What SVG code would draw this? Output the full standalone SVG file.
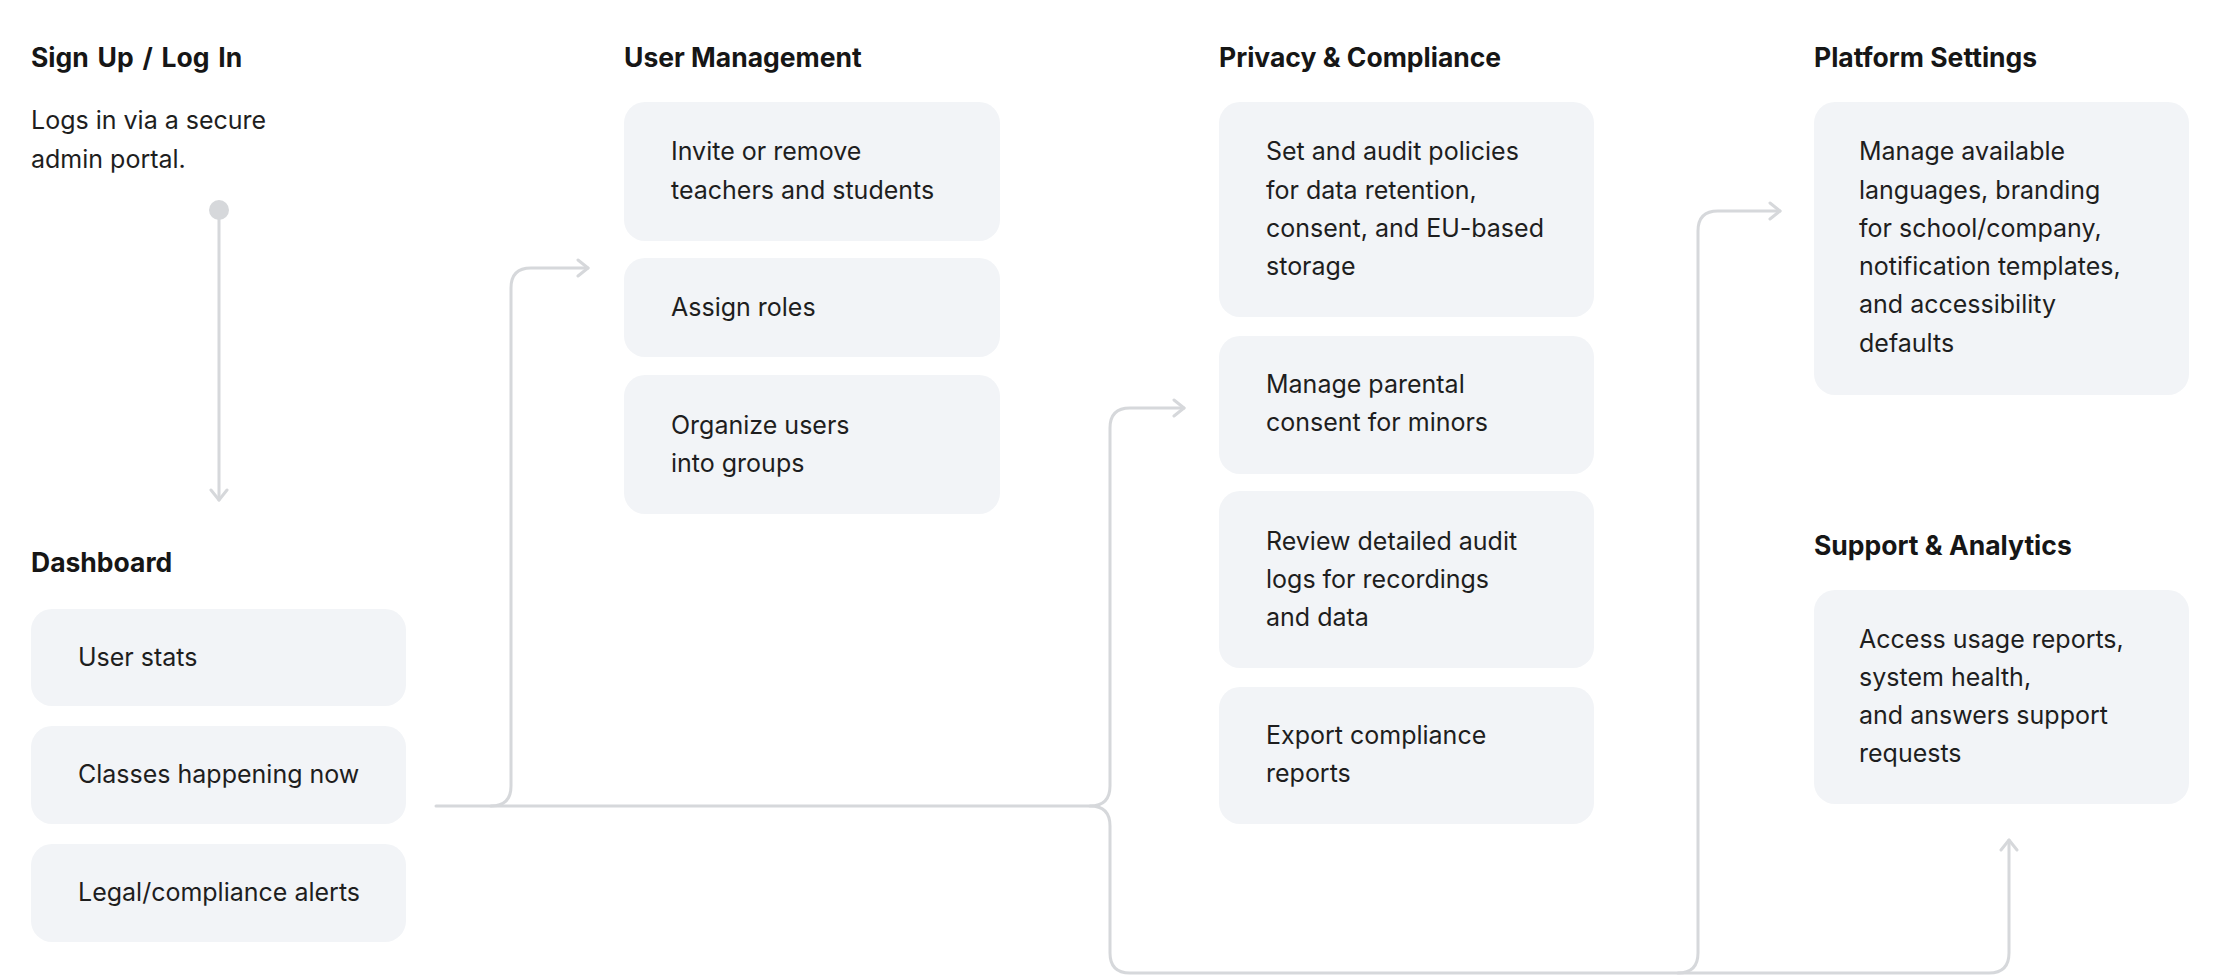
<svg xmlns="http://www.w3.org/2000/svg" width="2220" height="976" viewBox="0 0 2220 976">
<defs>
<style>
.bg{fill:#ffffff}
.box{fill:#f2f4f7}
.h{font-family:Inter,"Liberation Sans",sans-serif;font-size:26.5px;font-weight:700;fill:#161616}
.t{font-family:Inter,"Liberation Sans",sans-serif;font-size:25px;font-weight:400;fill:#1e1e1e}
.c{fill:none;stroke:#d6d8db;stroke-width:3;stroke-linecap:round;stroke-linejoin:round}
</style>
<marker id="arr" viewBox="0 0 20 20" refX="18" refY="10" markerWidth="20" markerHeight="20" markerUnits="userSpaceOnUse" orient="auto">
<path d="M8,2 L18,10 L8,18" fill="none" stroke="#d6d8db" stroke-width="3" stroke-linecap="round" stroke-linejoin="round"/>
</marker>
</defs>
<rect class="bg" x="0" y="0" width="2220" height="976"/>

<g id="connectors">
<circle cx="219" cy="210" r="10" fill="#d6d8db"/>
<path class="c" d="M219,210 V500" marker-end="url(#arr)"/>
<path class="c" d="M436,806 H1090 Q1110,806 1110,786 V428 Q1110,408 1130,408 H1184" marker-end="url(#arr)"/>
<path class="c" d="M491,806 Q511,806 511,786 V288 Q511,268 531,268 H588" marker-end="url(#arr)"/>
<path class="c" d="M1090,806 Q1110,806 1110,826 V953 Q1110,973 1130,973 H1989 Q2009,973 2009,953 V840" marker-end="url(#arr)"/>
<path class="c" d="M1678,973 Q1698,973 1698,953 V231 Q1698,211 1718,211 H1780" marker-end="url(#arr)"/>
</g>

<g id="signup">
<text class="h" x="31" y="67" word-spacing="2.5">Sign Up / Log In</text>
<text class="t" x="31" y="129">Logs in via a secure</text>
<text class="t" x="31" y="168">admin portal.</text>
</g>

<g id="dashboard">
<text class="h" x="31" y="572">Dashboard</text>
<g id="dash-user-stats"><rect class="box" x="31" y="609" width="375" height="97" rx="21"/><text class="t" x="78" y="666">User stats</text></g>
<g id="dash-classes"><rect class="box" x="31" y="726" width="375" height="98" rx="21"/><text class="t" x="78" y="783">Classes happening now</text></g>
<g id="dash-legal"><rect class="box" x="31" y="844" width="375" height="98" rx="21"/><text class="t" x="78" y="901">Legal/compliance alerts</text></g>
</g>

<g id="user-management">
<text class="h" x="624" y="67">User Management</text>
<g id="um-invite"><rect class="box" x="624" y="102" width="376" height="139" rx="21"/><text class="t" x="671" y="160">Invite or remove</text><text class="t" x="671" y="199">teachers and students</text></g>
<g id="um-roles"><rect class="box" x="624" y="258" width="376" height="99" rx="21"/><text class="t" x="671" y="316">Assign roles</text></g>
<g id="um-groups"><rect class="box" x="624" y="375" width="376" height="139" rx="21"/><text class="t" x="671" y="434">Organize users</text><text class="t" x="671" y="472">into groups</text></g>
</g>

<g id="privacy">
<text class="h" x="1219" y="67">Privacy &amp; Compliance</text>
<g id="pc-policies"><rect class="box" x="1219" y="102" width="375" height="215" rx="21"/>
<text class="t" x="1266" y="160">Set and audit policies</text>
<text class="t" x="1266" y="199">for data retention,</text>
<text class="t" x="1266" y="237">consent, and EU-based</text>
<text class="t" x="1266" y="275">storage</text></g>
<g id="pc-parental"><rect class="box" x="1219" y="336" width="375" height="138" rx="21"/>
<text class="t" x="1266" y="393">Manage parental</text>
<text class="t" x="1266" y="431">consent for minors</text></g>
<g id="pc-audit"><rect class="box" x="1219" y="491" width="375" height="177" rx="21"/>
<text class="t" x="1266" y="550">Review detailed audit</text>
<text class="t" x="1266" y="588">logs for recordings</text>
<text class="t" x="1266" y="626">and data</text></g>
<g id="pc-export"><rect class="box" x="1219" y="687" width="375" height="137" rx="21"/>
<text class="t" x="1266" y="744">Export compliance</text>
<text class="t" x="1266" y="782">reports</text></g>
</g>

<g id="platform">
<text class="h" x="1814" y="67">Platform Settings</text>
<g id="ps-settings"><rect class="box" x="1814" y="102" width="375" height="293" rx="21"/>
<text class="t" x="1859" y="160">Manage available</text>
<text class="t" x="1859" y="199">languages, branding</text>
<text class="t" x="1859" y="237">for school/company,</text>
<text class="t" x="1859" y="275">notification templates,</text>
<text class="t" x="1859" y="313">and accessibility</text>
<text class="t" x="1859" y="352">defaults</text></g>
</g>

<g id="support">
<text class="h" x="1814" y="555">Support &amp; Analytics</text>
<g id="sa-reports"><rect class="box" x="1814" y="590" width="375" height="214" rx="21"/>
<text class="t" x="1859" y="648">Access usage reports,</text>
<text class="t" x="1859" y="686">system health,</text>
<text class="t" x="1859" y="724">and answers support</text>
<text class="t" x="1859" y="762">requests</text></g>
</g>
</svg>
